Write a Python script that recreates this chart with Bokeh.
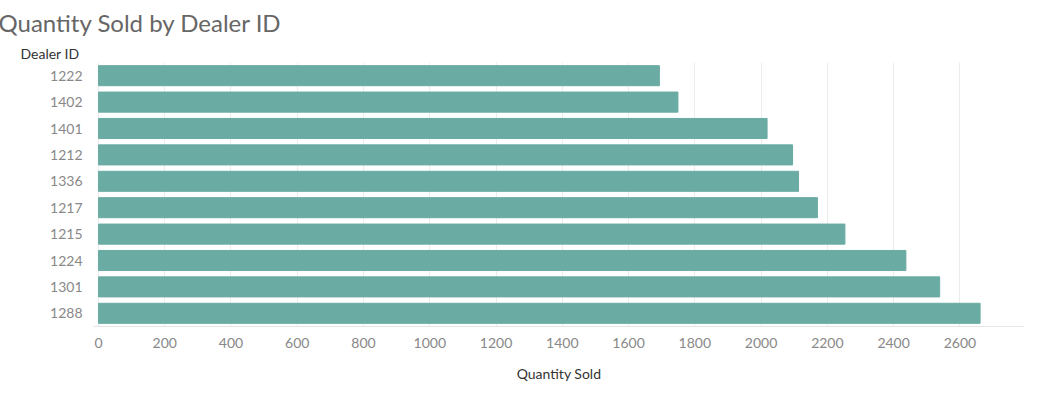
from bokeh.plotting import figure
from bokeh.models import FactorRange, Range1d, Title, FixedTicker
from bokeh.embed import file_html
from bokeh.resources import INLINE

dealers = ["1222", "1402", "1401", "1212", "1336", "1217", "1215", "1224", "1301", "1288"]
qty = [1693, 1749, 2018, 2095, 2113, 2170, 2253, 2437, 2539, 2661]

p = figure(width=1024, height=384, output_backend="svg", toolbar_location=None,
           y_range=FactorRange(factors=dealers[::-1]), x_range=Range1d(-15, 2795),
           min_border_left=93, min_border_right=0, min_border_top=0)
p.hbar(y=dealers, right=qty, left=0, height=0.76, color="#6aaba3")

p.title.text = "Quantity Sold by Dealer ID"
p.title.text_font = "Lato"
p.title.text_font_size = "24px"
p.title.text_font_style = "normal"
p.title.text_color = "#666666"
p.title.offset = -95
p.add_layout(Title(text="Dealer ID", text_font="Lato", text_font_size="14px",
                   text_font_style="normal", text_color="#333333", offset=-73,
                   standoff=2), "above")

p.xaxis.axis_label = "Quantity Sold"
p.xaxis.axis_label_text_font = "Lato"
p.xaxis.axis_label_text_font_style = "normal"
p.xaxis.axis_label_text_font_size = "14px"
p.xaxis.axis_label_text_color = "#333333"
p.xaxis.axis_label_standoff = 14
p.xaxis.ticker = FixedTicker(ticks=list(range(0, 2601, 200)))
for ax in (p.xaxis, p.yaxis):
    ax.major_label_text_font = "Lato"
    ax.major_label_text_font_size = "14px"
    ax.major_label_text_color = "#888888"
    ax.major_tick_line_color = None
    ax.minor_tick_line_color = None
p.xaxis.axis_line_color = "#e6e6e6"
p.yaxis.axis_line_color = None
p.ygrid.grid_line_color = None
p.xgrid.grid_line_color = "#ececec"
p.outline_line_color = None

open("out.html", "w").write(file_html(p, INLINE))
